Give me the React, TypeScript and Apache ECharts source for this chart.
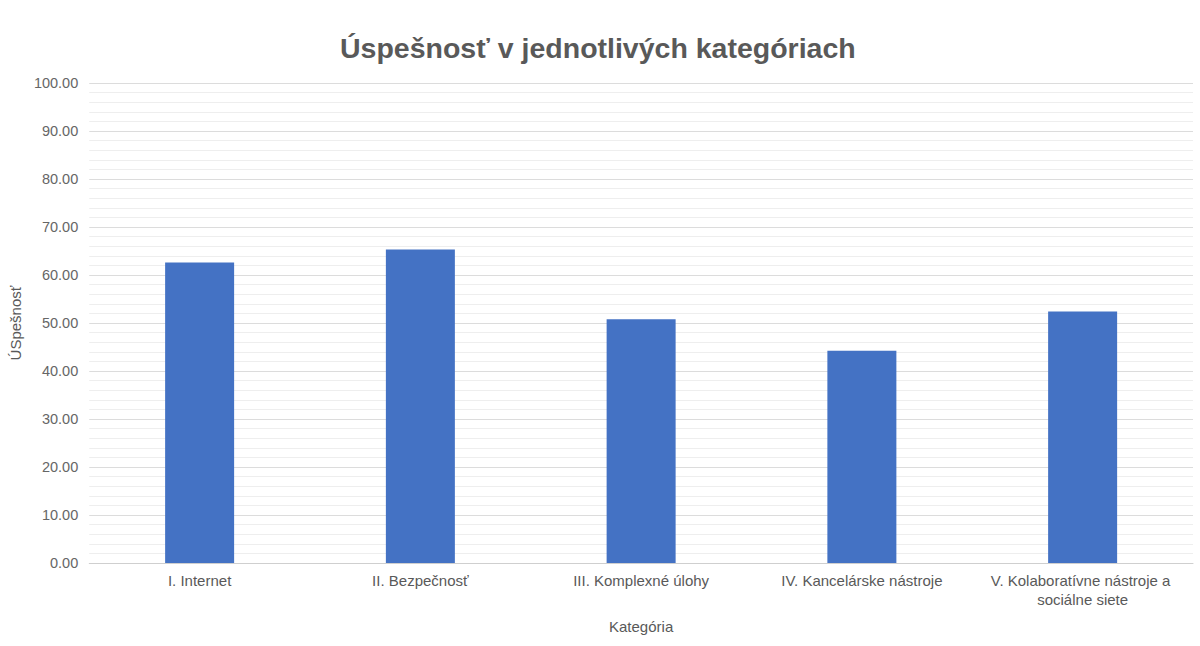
import React, { useEffect, useRef } from "react";
import * as echarts from "echarts";

const TITLE = "Úspešnosť v jednotlivých kategóriach";
const Y_NAME = "ÚSpešnosť";
const X_NAME = "Kategória";
const categories = [
  "I. Internet",
  "II. Bezpečnosť",
  "III. Komplexné úlohy",
  "IV. Kancelárske nástroje",
  "V. Kolaboratívne nástroje a sociálne siete",
];
const values = [62.6, 65.3, 50.8, 44.2, 52.4];

export default function App() {
  const ref = useRef<HTMLDivElement>(null);
  useEffect(() => {
    if (!ref.current) return;
    const chart = echarts.init(ref.current, null, { renderer: "svg" });
    chart.setOption({
      animation: false,
      backgroundColor: "#ffffff",
      title: {
        text: TITLE,
        left: 335,
        top: 28,
        textStyle: {
          fontFamily: "Liberation Sans, Arial, sans-serif",
          fontSize: 28.5,
          fontWeight: "bold",
          color: "#595959",
        },
      },
      grid: { left: 84, right: 7, top: 83, bottom: 83, containLabel: false },
      xAxis: {
        type: "category",
        data: categories,
        name: X_NAME,
        nameLocation: "middle",
        nameGap: 56,
        nameTextStyle: { fontFamily: "Liberation Sans, Arial, sans-serif", fontSize: 15, color: "#595959" },
        axisTick: { show: false },
        axisLine: { show: true, lineStyle: { color: "#cfcfcf", width: 1 } },
        axisLabel: {
          interval: 0,
          margin: 8,
          fontFamily: "Liberation Sans, Arial, sans-serif",
          fontSize: 15,
          color: "#595959",
          width: 215,
          overflow: "break",
          lineHeight: 19,
        },
      },
      yAxis: {
        type: "value",
        min: 0,
        max: 100,
        interval: 10,
        name: Y_NAME,
        nameLocation: "middle",
        nameGap: 66,
        nameRotate: 90,
        nameTextStyle: { fontFamily: "Liberation Sans, Arial, sans-serif", fontSize: 15, color: "#595959" },
        axisLine: { show: false },
        axisTick: { show: false },
        axisLabel: {
          formatter: (v: number) => v.toFixed(2),
          margin: 11,
          fontFamily: "Liberation Sans, Arial, sans-serif",
          fontSize: 14.5,
          color: "#666666",
        },
        splitLine: { lineStyle: { color: "#dcdcdc", width: 1 } },
        minorTick: { show: false, splitNumber: 5 },
        minorSplitLine: { show: true, lineStyle: { color: "#eeeeee", width: 1 } },
      },
      series: [
        {
          type: "bar",
          data: values,
          barWidth: 69,
          itemStyle: { color: "#4472C4" },
        },
      ],
    });
    return () => chart.dispose();
  }, []);
  return <div ref={ref} style={{ width: 1200, height: 646, position: "absolute", left: 0, top: 0 }} />;
}
